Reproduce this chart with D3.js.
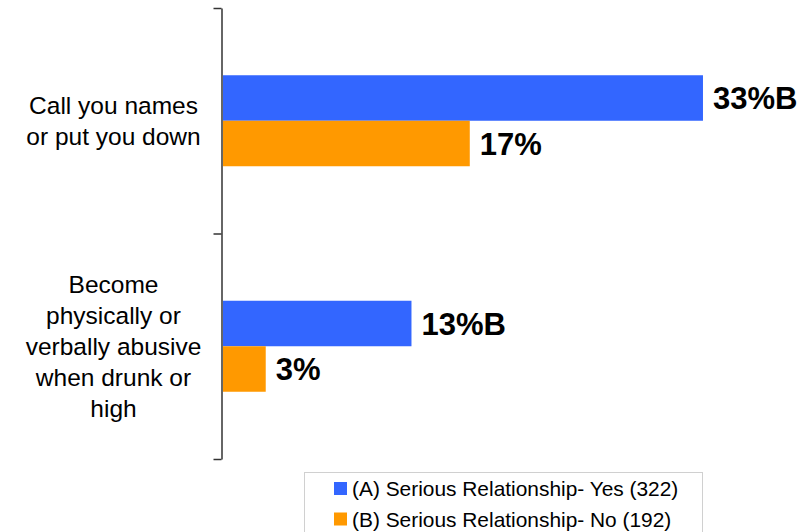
<!DOCTYPE html>
<html>
<head>
<meta charset="utf-8">
<script src="https://cdn.jsdelivr.net/npm/d3@7"></script>
<style>
  html, body { margin: 0; padding: 0; background: #fff; }
  svg { display: block; font-family: "Liberation Sans", Arial, sans-serif; }
</style>
</head>
<body>
<svg id="chart" width="802" height="532"></svg>
<script>
// ---- data ----
const categories = ["Call you names or put you down", "Become physically or verbally abusive when drunk or high"];
const categoryLines = [
  ["Call you names", "or put you down"],
  ["Become", "physically or", "verbally abusive", "when drunk or", "high"]
];
const seriesNames = ["(A) Serious Relationship- Yes (322)", "(B) Serious Relationship- No (192)"];
const seriesA = [33, 13];
const seriesB = [17, 3];
const labelsA = ["33%B", "13%B"];
const labelsB = ["17%", "3%"];
const colors = ["#3366FF", "#FF9900"];

// ---- layout ----
const svg = d3.select("#chart");
const x0 = 222, plotTop = 8, plotBottom = 459;

const x = d3.scaleLinear().domain([0, 40]).range([x0, x0 + 583]);
const y = d3.scaleBand().domain(categories).range([plotTop, plotBottom]).paddingInner(0).paddingOuter(0);
const barH = 45.5;

const series = [seriesA, seriesB];
const labels = [labelsA, labelsB];

// bars
series.forEach((vals, si) => {
  svg.append("g").selectAll("rect")
    .data(categories)
    .join("rect")
    .attr("x", x(0))
    .attr("y", d => y(d) + y.bandwidth() / 2 - barH + si * barH)
    .attr("width", (d, i) => x(vals[i]) - x(0))
    .attr("height", barH)
    .attr("fill", colors[si]);

  svg.append("g").selectAll("text")
    .data(categories)
    .join("text")
    .attr("x", (d, i) => x(vals[i]) + 10)
    .attr("y", (d, i) => y(d) + y.bandwidth() / 2 - barH + si * barH + barH / 2 + 11)
    .attr("font-size", 31)
    .attr("font-weight", "bold")
    .attr("fill", "#000")
    .text((d, i) => labels[si][i]);
});

// axis (ticks at category boundaries)
const yb = d3.scaleLinear().domain([0, categories.length]).range([plotTop, plotBottom]);
const axis = svg.append("g")
  .attr("transform", `translate(${x0 - 0.5},0)`)
  .call(d3.axisLeft(yb).tickValues(d3.range(categories.length + 1)).tickSize(8).tickSizeOuter(0).tickFormat(""));
axis.select(".domain").attr("stroke", "#666").attr("stroke-width", 2);
axis.selectAll(".tick line").attr("stroke", "#333").attr("stroke-width", 1.5);

// category labels
categories.forEach((c, ci) => {
  const lines = categoryLines[ci];
  const cy = y(c) + y.bandwidth() / 2;
  const lh = 31;
  svg.append("g").selectAll("text")
    .data(lines)
    .join("text")
    .attr("x", 113.5)
    .attr("y", (d, i) => cy + (i - (lines.length - 1) / 2) * lh + 8.5)
    .attr("text-anchor", "middle")
    .attr("font-size", 24.5)
    .attr("fill", "#000")
    .text(d => d);
});

// legend
const lg = svg.append("g");
lg.append("rect")
  .attr("x", 304.5).attr("y", 472.5)
  .attr("width", 398).attr("height", 80)
  .attr("fill", "#fff").attr("stroke", "#d0d0d0").attr("stroke-width", 1);
seriesNames.forEach((s, i) => {
  const cy = 488.5 + i * 30.5;
  lg.append("rect")
    .attr("x", 334).attr("y", cy - 6.5)
    .attr("width", 13).attr("height", 13)
    .attr("fill", colors[i]);
  lg.append("text")
    .attr("x", 352).attr("y", cy + 7.5)
    .attr("font-size", 20.9)
    .attr("fill", "#000")
    .text(s);
});
</script>
</body>
</html>
